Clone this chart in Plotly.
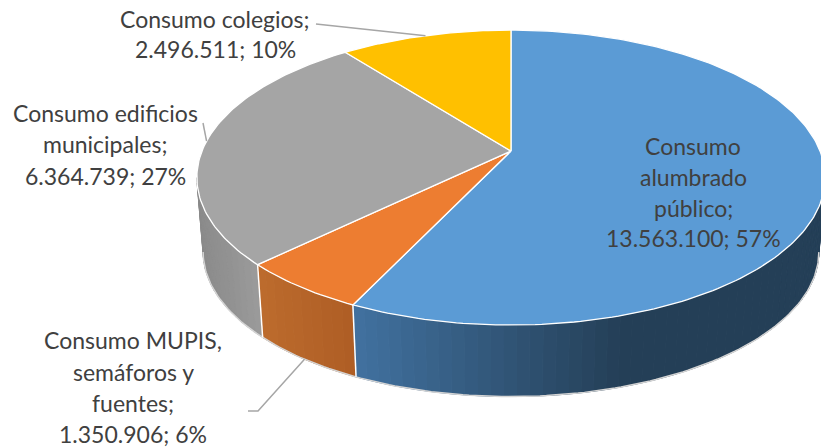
import math
import plotly.graph_objects as go

# Data
categories = ["Consumo alumbrado público", "Consumo MUPIS, semáforos y fuentes",
              "Consumo edificios municipales", "Consumo colegios"]
values = [13563100, 1350906, 6364739, 2496511]
percents = ["57%", "6%", "27%", "10%"]
value_labels = ["13.563.100", "1.350.906", "6.364.739", "2.496.511"]

label_lines = [
    ["Consumo", "alumbrado", "público;"],
    ["Consumo MUPIS,", "semáforos y", "fuentes;"],
    ["Consumo edificios", "municipales;"],
    ["Consumo colegios;"],
]

# Style / layout
top_colors = ["#5B9BD5", "#ED7D31", "#A5A5A5", "#FFC000"]
wall_left = [(0x41, 0x71, 0x9F), (0xBC, 0x6B, 0x2D), (0x8A, 0x8A, 0x8A), (0xBF, 0x90, 0x00)]
wall_right = [(0x24, 0x3F, 0x57), (0xAE, 0x5D, 0x24), (0x9A, 0x9A, 0x9A), (0xBF, 0x90, 0x00)]
wall_span = [(357, 620), (262, 357), (200, 258), (340, 511)]
CX, CY, B, A, P = 511, 151, 309, 142.7, 0.18
BASE_SCALE, BASE_CY = 0.98, 226
TEXT = "#404040"
LEADER = "#A6A6A6"
FONT = "Lato, Carlito, Calibri, sans-serif"
FSIZE = 23


def proj(deg, base=False):
    a = math.radians(deg)
    X, Y = math.sin(a), -math.cos(a)
    w = 1 - P * Y
    xp, yp = B * X / w, A * Y / w
    if base:
        return CX + BASE_SCALE * xp, BASE_CY + BASE_SCALE * yp
    return CX + xp, CY + yp


def arc(a0, a1, step=1.0):
    n = max(2, int(abs(a1 - a0) / step) + 1)
    return [a0 + (a1 - a0) * i / (n - 1) for i in range(n)]


total = sum(values)
bounds = [0.0]
for v in values:
    bounds.append(bounds[-1] + 360.0 * v / total)

fig = go.Figure()


def poly(xs, ys, fill=None, line=None, width=1.0):
    fig.add_trace(go.Scatter(
        x=xs, y=ys, mode="lines",
        fill="toself" if fill else None, fillcolor=fill,
        line=dict(color=line or fill, width=width),
        hoverinfo="skip", showlegend=False))


# Side walls, drawn only on the visible front of the cylinder
FRONT = (100.4, 259.6)
for i in [2, 1, 0]:
    a0 = max(bounds[i], FRONT[0])
    a1 = min(bounds[i + 1], FRONT[1])
    angs = arc(a0, a1, 2.0)
    for u, v in zip(angs[:-1], angs[1:]):
        x0, y0 = proj(u)
        x1, y1 = proj(v)
        x2, y2 = proj(v, True)
        x3, y3 = proj(u, True)
        mx = (x0 + x1 + x2 + x3) / 4
        lo, hi = wall_span[i]
        t = min(1, max(0, (mx - lo) / (hi - lo)))
        c = [round(l + (r - l) * t) for l, r in zip(wall_left[i], wall_right[i])]
        col = f"rgb({c[0]},{c[1]},{c[2]})"
        poly([x0, x1, x2, x3, x0], [y0, y1, y2, y3, y0], fill=col, width=1)

# Light rim under the walls
rim = [proj(a, True) for a in arc(FRONT[0], FRONT[1], 1.0)]
poly([p[0] for p in rim], [p[1] for p in rim], line="#D4D4D4", width=1.5)

# White edges between wall sections
for b in bounds[1:3]:
    p0, p1 = proj(b), proj(b, True)
    poly([p0[0], p1[0]], [p0[1], p1[1]], line="#FFFFFF", width=1.5)

# Top faces
for i in range(4):
    pts = [proj(a) for a in arc(bounds[i], bounds[i + 1], 1.0)]
    xs = [CX] + [p[0] for p in pts] + [CX]
    ys = [CY] + [p[1] for p in pts] + [CY]
    poly(xs, ys, fill=top_colors[i], line="#FFFFFF", width=1.3)


# Leader lines, ending at each slice's mid-angle on the pie edge
def mid(i):
    return (bounds[i] + bounds[i + 1]) / 2


p = proj(mid(3))
poly([316, 400, p[0]], [24, 33, p[1]], line=LEADER, width=1.5)
p = proj(mid(2))
poly([203, p[0]], [123, p[1]], line=LEADER, width=1.5)
p = proj(mid(1), True)
poly([248, 258, p[0]], [411, 411, p[1]], line=LEADER, width=1.5)

# Labels
anchors = [(693, [146, 177, 208, 238]), (133, [340, 372, 403, 434]),
           (105, [113, 144, 176]), (215, [19, 49])]
anns = []
for i, (cx, ys) in enumerate(anchors):
    lines = label_lines[i] + [f"{value_labels[i]}; {percents[i]}"]
    for y, txt in zip(ys, lines):
        anns.append(dict(x=cx, y=y, text=txt, showarrow=False, xanchor="center",
                         yanchor="middle", font=dict(family=FONT, size=FSIZE, color=TEXT)))

fig.update_layout(
    width=821, height=447, margin=dict(l=0, r=0, t=0, b=0),
    paper_bgcolor="white", plot_bgcolor="white", showlegend=False,
    xaxis=dict(range=[0, 821], visible=False, fixedrange=True),
    yaxis=dict(range=[447, 0], visible=False, fixedrange=True),
    annotations=anns,
)
fig.write_html("out.html", config={"displayModeBar": False},
               post_script="document.body.style.margin='0';document.body.style.overflow='hidden';")
